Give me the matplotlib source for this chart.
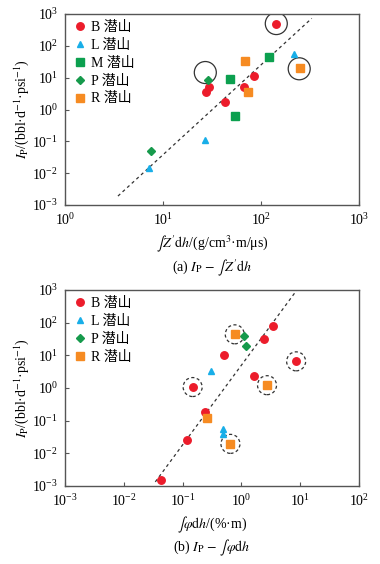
import matplotlib
matplotlib.use("Agg")
import matplotlib.pyplot as plt
import numpy as np
from matplotlib.patches import Ellipse

plt.rcParams['font.family'] = ['Liberation Serif', 'Noto Sans CJK SC']
plt.rcParams['mathtext.fontset'] = 'stix'

# ---- Panel (a) data: integral Z'dh vs Ip ----
a_B_x = [143, 85, 66.5, 29.7, 27.5, 42.6]
a_B_y = [485, 11.3, 5.1, 4.97, 3.46, 1.76]
a_L_x = [215, 26.6, 7.14]
a_L_y = [55, 0.11, 0.0142]
a_M_x = [121.6, 48.3, 53.8]
a_M_y = [43.5, 9.3, 0.61]
a_P_x = [28.8, 7.55]
a_P_y = [8.45, 0.0497]
a_R_x = [69.2, 248, 74.3]
a_R_y = [34.2, 20.1, 3.55]
a_fit_range = [3.47, 329]
a_fit_slope, a_fit_logint = 2.824, -4.245
a_circles_x = [143, 27.0, 245]
a_circles_y = [500, 14.5, 19.0]

# ---- Panel (b) data: integral phi dh vs Ip ----
b_B_x = [3.4, 2.42, 8.5, 0.5, 1.62, 0.148, 0.237, 0.119, 0.0435]
b_B_y = [79, 31.6, 6.55, 10, 2.33, 1.05, 0.18, 0.0256, 0.00153]
b_L_x = [0.308, 0.48, 0.48]
b_L_y = [3.4, 0.055, 0.04]
b_P_x = [1.12, 1.18]
b_P_y = [40, 19.3]
b_R_x = [0.77, 2.72, 0.263, 0.63]
b_R_y = [46, 1.24, 0.118, 0.0193]
b_fit_range = [0.0343, 8.7]
b_fit_slope, b_fit_logint = 2.44, 0.70
b_circles_x = [0.77, 8.5, 0.148, 2.72, 0.65]
b_circles_y = [44, 6.55, 1.07, 1.22, 0.0195]

colors = {'B': '#ec1c2b', 'L': '#18aee8', 'M': '#0ca04f', 'P': '#169a4c', 'R': '#f68b22'}
markers = {'B': ('o', 5.4), 'L': ('^', 4.8), 'M': ('s', 5.2), 'P': ('D', 3.8), 'R': ('s', 5.2)}

fig = plt.figure(figsize=(3.8, 5.64), dpi=100)
ax1 = fig.add_axes([0.171, 0.6365, 0.774, 0.3387])
ax2 = fig.add_axes([0.171, 0.1383, 0.774, 0.3475])

def style(ax, xlim):
    ax.set_xscale('log'); ax.set_yscale('log')
    ax.set_xlim(*xlim); ax.set_ylim(1e-3, 1e3)
    ax.minorticks_off()
    ax.tick_params(direction='in', length=3, width=0.8, labelsize=10, color='#555555')
    ax.tick_params(axis='x', pad=5)
    ax.tick_params(axis='y', pad=5)
    for s in ax.spines.values():
        s.set_color('#555555'); s.set_linewidth(1.0)

def circle(ax, x, y, w_px, h_px, ls):
    for cx, cy in zip(x, y):
        px, py = ax.transData.transform((cx, cy))
        e = Ellipse((px, py), w_px, h_px, transform=None, fill=False,
                    ec='#333333', lw=0.9, ls=ls)
        ax.add_artist(e)

def scatter(ax, key, xs, ys):
    m, ms = markers[key]
    ax.plot(xs, ys, ls='none', marker=m, ms=ms, color=colors[key], mec=colors[key],
            label=f'{key} 潜山')

def fit(ax, rng, slope, logint):
    xx = np.array(rng)
    yy = 10 ** (logint + slope * np.log10(xx))
    ax.plot(xx, yy, ls=(0, (2.5, 2.5)), color='#333333', lw=0.9)

style(ax1, (1, 1e3))
fit(ax1, a_fit_range, a_fit_slope, a_fit_logint)
scatter(ax1, 'B', a_B_x, a_B_y)
scatter(ax1, 'L', a_L_x, a_L_y)
scatter(ax1, 'M', a_M_x, a_M_y)
scatter(ax1, 'P', a_P_x, a_P_y)
scatter(ax1, 'R', a_R_x, a_R_y)
ax1.legend(loc='upper left', frameon=False, fontsize=10, handletextpad=0.15,
           borderaxespad=0.2, labelspacing=0.35, handlelength=1.2, borderpad=0.3)
ax1.set_ylabel(r'$I_{\mathrm{P}}$/(bbl·d$^{-1}$·psi$^{-1}$)', fontsize=10, labelpad=1)
ax1.set_xlabel(r"$\int Z'\mathrm{d}h$/(g/cm$^3$·m/μs)", fontsize=10, labelpad=4)
fig.text(0.558, 1 - 268 / 564, r"(a) $I_{\mathrm{P}}$ $-$ $\int Z'\mathrm{d}h$", ha='center', va='center', fontsize=10)

style(ax2, (1e-3, 1e2))
fit(ax2, b_fit_range, b_fit_slope, b_fit_logint)
scatter(ax2, 'B', b_B_x, b_B_y)
scatter(ax2, 'L', b_L_x, b_L_y)
scatter(ax2, 'P', b_P_x, b_P_y)
scatter(ax2, 'R', b_R_x, b_R_y)
ax2.legend(loc='upper left', frameon=False, fontsize=10, handletextpad=0.15,
           borderaxespad=0.2, labelspacing=0.35, handlelength=1.2, borderpad=0.3)
ax2.set_ylabel(r'$I_{\mathrm{P}}$/(bbl·d$^{-1}$·psi$^{-1}$)', fontsize=10, labelpad=1)
ax2.set_xlabel(r"$\int \varphi\mathrm{d}h$/(%·m)", fontsize=10, labelpad=4)
fig.text(0.558, 1 - 548 / 564, r"(b) $I_{\mathrm{P}}$ $-$ $\int \varphi\mathrm{d}h$", ha='center', va='center', fontsize=10)

fig.canvas.draw()
circle(ax1, a_circles_x, a_circles_y, 22, 22, '-')
circle(ax2, b_circles_x, b_circles_y, 19, 19, (0, (2.5, 2)))

fig.savefig('out.png', dpi=100)
